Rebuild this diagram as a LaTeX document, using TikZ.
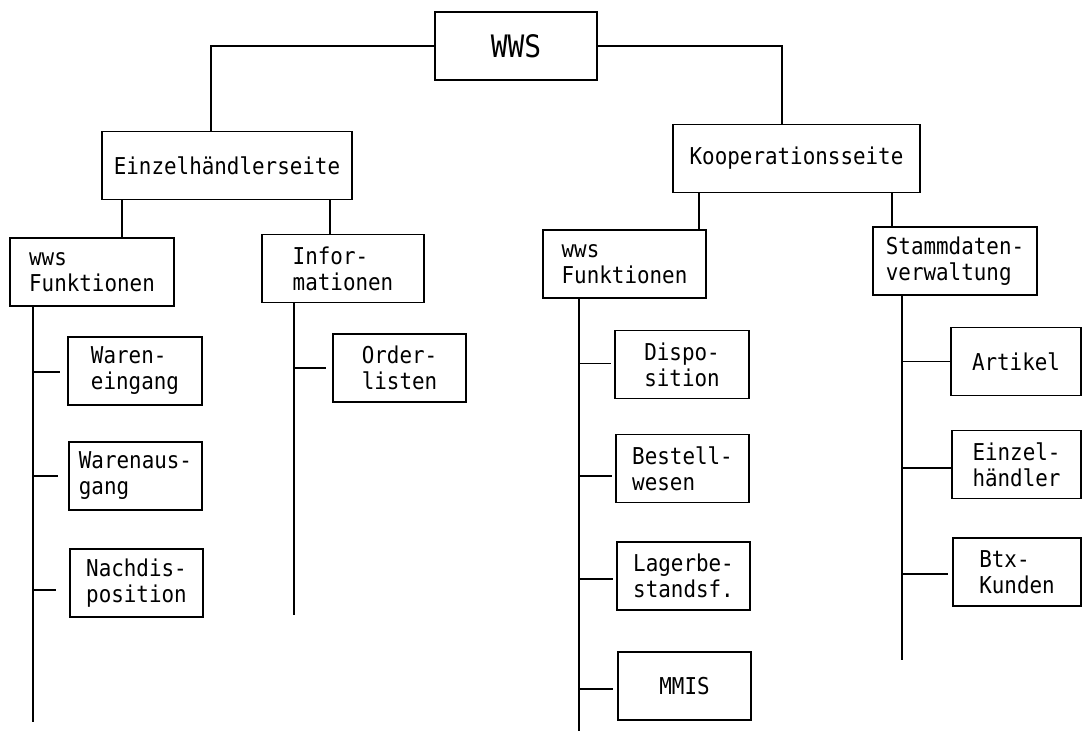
\documentclass[tikz,border=0pt]{standalone}
\usepackage{fontspec}
\setmonofont[FakeStretch=0.9]{DejaVu Sans Mono}
\usetikzlibrary{calc}

\newlength{\pxu}
\setlength{\pxu}{0.025cm}

\tikzset{
  box/.style={draw, line width=1.4pt, align=left, inner sep=0pt,
    minimum height=68\pxu, font=\ttfamily\fontsize{16.5}{18.5}\selectfont},
  wire/.style={line width=1.4pt},
}

\begin{document}
\begin{tikzpicture}[x=\pxu, y=-\pxu, wire]
  \useasboundingbox (0,0) rectangle (1083,731);

  % Kopf und erste Ebene
  \node[box, minimum width=162\pxu, font=\ttfamily\fontsize{22}{26}\selectfont] (wws) at (516,46) {WWS};
  \node[box, minimum width=250\pxu] (einz) at (227,165.5) {Einzelhändlerseite};
  \node[box, minimum width=247\pxu] (kop)  at (796.5,158.5) {Kooperationsseite};

  % zweite Ebene
  \node[box, minimum width=164\pxu] (wwsL)  at (92,272)    {wws\\Funktionen};
  \node[box, minimum width=162\pxu] (info)  at (343,268.5) {Infor-\\mationen};
  \node[box, minimum width=163\pxu] (wwsR)  at (624.5,264) {wws\\Funktionen};
  \node[box, minimum width=164\pxu] (stamm) at (955,261)   {Stammdaten-\\verwaltung};

  % Blaetter
  \node[box, minimum width=134\pxu] (wein)  at (135,371)    {Waren-\\eingang};
  \node[box, minimum width=133\pxu] (waus)  at (135.5,476)  {Warenaus-\\gang};
  \node[box, minimum width=133\pxu] (nach)  at (136.5,583)  {Nachdis-\\position};
  \node[box, minimum width=133\pxu] (order) at (399.5,368)  {Order-\\listen};
  \node[box, minimum width=134\pxu] (disp)  at (682,364.5)  {Dispo-\\sition};
  \node[box, minimum width=133\pxu] (best)  at (682.5,468.5) {Bestell-\\wesen};
  \node[box, minimum width=133\pxu] (lager) at (683.5,576)  {Lagerbe-\\standsf.};
  \node[box, minimum width=133\pxu] (mmis)  at (684.5,686)  {MMIS};
  \node[box, minimum width=130\pxu] (art)   at (1016,361.5) {Artikel};
  \node[box, minimum width=129\pxu] (einzh) at (1016.5,464.5) {Einzel-\\händler};
  \node[box, minimum width=128\pxu] (btx)   at (1017,572)   {Btx-\\Kunden};

  % Verbindungen von oben
  \draw (wws.west) -| ([xshift=-16\pxu]einz.north);
  \draw (wws.east) -| ([xshift=-14.5\pxu]kop.north);
  \draw ([xshift=30\pxu]wwsL.north) -- ([xshift=30\pxu]wwsL.north |- einz.south);
  \draw ([xshift=-13\pxu]info.north) -- ([xshift=-13\pxu]info.north |- einz.south);
  \draw ([xshift=74.5\pxu]wwsR.north) -- ([xshift=74.5\pxu]wwsR.north |- kop.south);
  \draw ([xshift=-63\pxu]stamm.north) -- ([xshift=-63\pxu]stamm.north |- kop.south);

  % senkrechte Staemme
  \coordinate (lspine) at (33,722);
  \coordinate (ispine) at (294,615);
  \coordinate (rspine) at (579,731);
  \coordinate (sspine) at (902,660);
  \draw (wwsL.south -| lspine)  -- (lspine);
  \draw (info.south -| ispine)  -- (ispine);
  \draw (wwsR.south -| rspine)  -- (rspine);
  \draw (stamm.south -| sspine) -- (sspine);

  % Abzweige: Knoten / Luecke / Versatz
  \foreach \c/\g/\d in {wein/7/-1, waus/10/0, nach/13/-7}
    \draw ([yshift=\d\pxu]\c.west -| lspine) -- ([xshift=-\g\pxu, yshift=\d\pxu]\c.west);
  \draw (order.west -| ispine) -- ([xshift=-6\pxu]order.west);
  \foreach \c/\g/\d in {disp/3/1, best/3/-7.5, lager/3/-3, mmis/4/-3}
    \draw ([yshift=\d\pxu]\c.west -| rspine) -- ([xshift=-\g\pxu, yshift=\d\pxu]\c.west);
  \foreach \c/\g/\d in {art/0/0, einzh/0/-3.5, btx/4/-2}
    \draw ([yshift=\d\pxu]\c.west -| sspine) -- ([xshift=-\g\pxu, yshift=\d\pxu]\c.west);
\end{tikzpicture}
\end{document}
